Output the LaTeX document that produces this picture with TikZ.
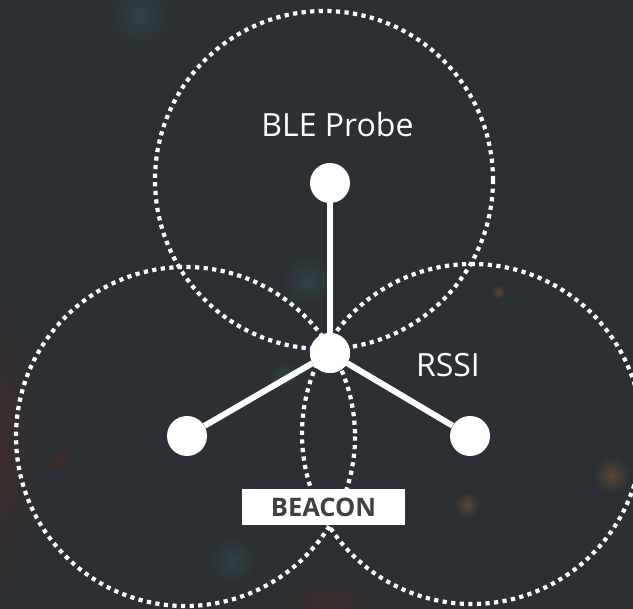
\documentclass[tikz,border=0pt]{standalone}
\usepackage{fontspec}
\setmainfont{Open Sans}
\definecolor{bg}{RGB}{44,48,52}
\definecolor{beacontxt}{RGB}{64,64,64}
\definecolor{tealglow}{RGB}{46,66,70}
\definecolor{redglow}{RGB}{62,44,44}
\definecolor{orangeglow}{RGB}{90,70,54}
\tikzset{
  ring/.style={draw=white, line width=4.2pt, dash pattern=on 4.2pt off 4.4pt},
  link/.style={draw=white, line width=6pt},
  dotnode/.style={circle, fill=white, minimum size=40pt, inner sep=0pt},
  lbl/.style={text=white, font=\fontsize{32}{36}\selectfont, anchor=base, inner sep=0pt},
  beaconbox/.style={fill=white, minimum width=163pt, minimum height=36pt, inner sep=0pt,
    text=beacontxt, font=\bfseries\fontsize{25.5}{28}\selectfont},
  glow/.style={shading=radial, inner color=#1, outer color=bg, draw=none}
}
\begin{document}
\begin{tikzpicture}[x=1pt,y=-1pt]
\fill[bg] (0,0) rectangle (633,609);
\useasboundingbox (0,0) rectangle (633,609);
% faint bokeh
\shade[glow=redglow] (0,450) ellipse (40 and 160);
\shade[glow=tealglow] (140,15) circle (32);
\shade[glow=tealglow] (308,280) circle (26);
\shade[glow=tealglow] (284,375) circle (14);
\shade[glow=redglow] (60,462) circle (14);
\shade[glow=orangeglow] (498,292) circle (7);
\shade[glow=orangeglow] (467,505) circle (13);
\shade[glow=orangeglow] (612,475) circle (18);
\shade[glow=tealglow] (232,560) circle (24);
\shade[glow=redglow] (330,600) ellipse (50 and 20);
% range circles
\draw[ring] (324,180) circle (169);
\draw[ring] (185.5,436.5) circle (169.5);
\draw[ring] (472,434) circle (170);
% nodes
\node[dotnode] (probe) at (330,183) {};
\node[dotnode] (hub) at (330,353) {};
\node[dotnode] (left) at (187,436) {};
\node[dotnode] (right) at (470,436) {};
\draw[link] (hub) -- (probe);
\draw[link] (hub) -- (left);
\draw[link] (hub) -- (right);
\node[dotnode] at (hub) {};
% labels
\node[lbl] (blelabel) at (337.5,137) {BLE Probe};
\node[lbl] (rssilabel) at (448,377) {RSSI};
\node[beaconbox] (beacon) at (323.5,507) {BEACON};
\end{tikzpicture}
\end{document}
